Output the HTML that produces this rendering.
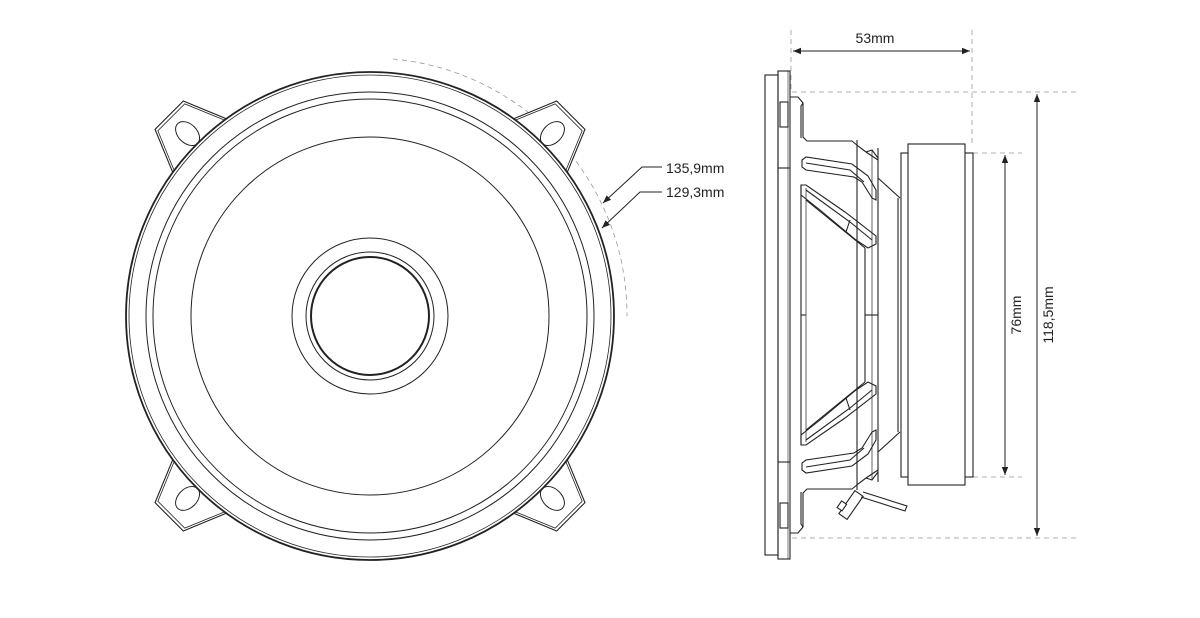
<!DOCTYPE html>
<html><head><meta charset="utf-8"><style>
html,body{margin:0;padding:0;background:#fff;}
svg{display:block;}
text{font-family:"Liberation Sans",sans-serif;fill:#222;}
</style></head><body>
<svg width="1200" height="618" viewBox="0 0 1200 618" xmlns="http://www.w3.org/2000/svg">
<defs>
<marker id="ar" viewBox="0 0 10 10" refX="10" refY="5" markerWidth="8" markerHeight="8" orient="auto-start-reverse" markerUnits="userSpaceOnUse"><path d="M0,1 L10,5 L0,9 z" fill="#222"/></marker>
<g id="tab">
<polygon points="236,-40 284,-20 284,20 236,40" fill="#fff" stroke="#222" stroke-width="1.1"/>
<polyline points="238,-37 281,-19 281,19 238,37" fill="none" stroke="#222" stroke-width="0.8"/>
<ellipse cx="258" cy="0" rx="14" ry="9.5" fill="none" stroke="#222" stroke-width="1"/>
</g>
</defs>
<!-- FRONT VIEW -->
<path d="M393,59 A257,257 0 0 1 627,316" fill="none" stroke="#999" stroke-width="0.8" stroke-dasharray="5,4"/>
<use href="#tab" transform="translate(370,316) rotate(225)"/>
<use href="#tab" transform="translate(370,316) rotate(315)"/>
<use href="#tab" transform="translate(370,316) rotate(45)"/>
<use href="#tab" transform="translate(370,316) rotate(135)"/>
<g fill="none" stroke="#222">
<circle cx="370" cy="316" r="244" fill="#fff" stroke-width="1.8"/>
<circle cx="370" cy="316" r="241" stroke-width="0.8"/>
<circle cx="370" cy="316" r="224" stroke-width="1"/>
<circle cx="370" cy="316" r="217" stroke-width="1"/>
<circle cx="370" cy="316" r="179" stroke-width="1"/>
<circle cx="370" cy="316" r="78" stroke-width="1"/>
<circle cx="370" cy="316" r="64" stroke-width="1"/>
<circle cx="370" cy="316" r="59" stroke-width="2"/>
</g>
<!-- leaders -->
<g fill="none" stroke="#222" stroke-width="1">
<polyline points="662,167 642,167 603,203" marker-end="url(#ar)"/>
<polyline points="662,192 640,192 602,228" marker-end="url(#ar)"/>
</g>
<text x="666" y="173" font-size="14">135,9mm</text>
<text x="666" y="197" font-size="14">129,3mm</text>

<!-- SIDE VIEW -->
<g fill="none" stroke="#999" stroke-width="0.8" stroke-dasharray="5,4">
<line x1="791" y1="30" x2="791" y2="92"/>
<line x1="972" y1="30" x2="972" y2="146"/>
<line x1="792" y1="92" x2="1078" y2="92"/>
<line x1="792" y1="538" x2="1078" y2="538"/>
<line x1="973" y1="153" x2="1022" y2="153"/>
<line x1="973" y1="477" x2="1022" y2="477"/>
</g>
<g stroke="#222" stroke-width="1" fill="none">
<line x1="793" y1="51" x2="970" y2="51" marker-start="url(#ar)" marker-end="url(#ar)"/>
<line x1="1037" y1="94" x2="1037" y2="536" marker-start="url(#ar)" marker-end="url(#ar)"/>
<line x1="1005" y1="155" x2="1005" y2="475" marker-start="url(#ar)" marker-end="url(#ar)"/>
</g>
<text x="875" y="43" font-size="14" text-anchor="middle">53mm</text>
<text transform="translate(1053,315) rotate(-90)" font-size="14" text-anchor="middle">118,5mm</text>
<text transform="translate(1021,315) rotate(-90)" font-size="14" text-anchor="middle">76mm</text>

<g fill="none" stroke="#222" stroke-width="1.1">
<rect x="765" y="75" width="13" height="480"/>
<rect x="778" y="71" width="12" height="488"/>
<line x1="788" y1="71" x2="788" y2="559" stroke-width="0.6"/>
<!-- magnet -->
<rect x="901" y="153" width="72" height="324"/>
<rect x="908" y="144" width="57" height="341" fill="#fff"/>
<!-- basket verticals -->
<line x1="857" y1="140" x2="857" y2="490"/>
<line x1="878" y1="148" x2="878" y2="482"/>
<line x1="872" y1="150" x2="872" y2="480" stroke-width="0.7"/>
<line x1="801" y1="185" x2="801" y2="445"/>
<line x1="806" y1="188" x2="806" y2="442" stroke-width="0.7"/>
<line x1="865" y1="248" x2="865" y2="382"/>
<line x1="898" y1="198" x2="898" y2="432"/>
<line x1="801" y1="315" x2="806" y2="315"/>
<line x1="865" y1="315" x2="878" y2="315"/>
</g>
<g id="half" fill="none" stroke="#222" stroke-width="1.1">
<rect x="780" y="102" width="8" height="25"/>
<line x1="778" y1="168" x2="790" y2="168"/>
<path d="M790,97 H798 L803,103 V137 L807,141 H852 L858,146 L866,152 L878,160"/>
<path d="M803,103 L801,106 V138"/>
<path d="M802,160 L806,157 L852,164 L868,176 L876,190 V200 L872,198 L862,182 L854,177 L806,170 L802,167 Z"/>
<path d="M806,163 L850,170 L864,182"/>
<path d="M801,185 L806,185 L845,212 L876,236 V244 L868,248 L856,240 L820,210 L801,195 Z"/>
<path d="M806,190 L850,222 L872,240"/>
<path d="M806,200 L865,248"/>
<line x1="850" y1="220" x2="846" y2="232"/>
<path d="M878,178 L900,198"/>
<path d="M866,152 L872,150 L878,158"/>
</g>
<use href="#half" transform="translate(0,630) scale(1,-1)"/>
<!-- terminal -->
<g fill="none" stroke="#222" stroke-width="1.1">
<g transform="translate(851,505) rotate(-55)">
<rect x="-14" y="-5" width="28" height="10" fill="#fff"/>
<rect x="-10" y="-10" width="8" height="6" fill="#fff"/>
</g>
<path d="M863,492 L907,506 L905,511 L861,497"/>
</g>
</svg>
</body></html>
